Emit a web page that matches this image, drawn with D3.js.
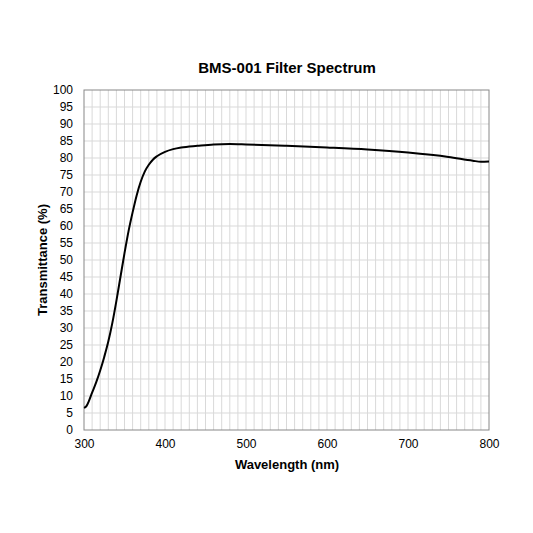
<!DOCTYPE html><html><head><script src="https://cdn.jsdelivr.net/npm/d3@7"></script>
<style>body{margin:0;background:#fff}</style></head><body><svg id="c" width="533" height="533"></svg>
<script>
const wavelengths=[300,303,306,310,315,320,325,330,335,340,345,350,355,360,365,370,375,380,385,390,400,410,420,440,460,480,500,550,600,650,700,750,780,790,800];
const transmittance=[6.5,7,8.5,11,14,17.5,21.5,26,31.5,38,45,52,58.5,64,69,73,76,78,79.5,80.5,81.8,82.6,83.1,83.6,84,84.1,84,83.6,83.1,82.5,81.6,80.3,79.2,78.9,79];
const xTicks=[300,400,500,600,700,800];
const yTicks=d3.range(0,101,5);
const svg=d3.select("#c"),L=84,R=489,T=90,B=430;
const x=d3.scaleLinear().domain([300,800]).range([L,R]);
const y=d3.scaleLinear().domain([0,100]).range([B,T]);
const g=svg.append("g");
g.selectAll(".v").data(d3.range(310,800,10)).enter().append("line").attr("x1",d=>x(d)).attr("x2",d=>x(d)).attr("y1",T).attr("y2",B).attr("stroke","#d9d9d9");
g.selectAll(".h").data(d3.range(5,100,5)).enter().append("line").attr("y1",d=>y(d)).attr("y2",d=>y(d)).attr("x1",L).attr("x2",R).attr("stroke","#d9d9d9");
svg.append("rect").attr("x",L).attr("y",T).attr("width",R-L).attr("height",B-T).attr("fill","none").attr("stroke","#888");
const xa=svg.append("g").attr("transform",`translate(0,${B})`).call(d3.axisBottom(x).tickValues(xTicks).tickSize(0).tickPadding(9));
const ya=svg.append("g").attr("transform",`translate(${L},0)`).call(d3.axisLeft(y).tickValues(yTicks).tickSize(0).tickPadding(11));
[xa,ya].forEach(a=>{a.select(".domain").remove();a.selectAll("text").attr("font-family","Liberation Sans, Arial").attr("font-size",12).attr("fill","#000");});
svg.append("path").datum(wavelengths.map((w,i)=>[w,transmittance[i]])).attr("fill","none").attr("stroke","#000").attr("stroke-width",2)
 .attr("d",d3.line().x(d=>x(d[0])).y(d=>y(d[1])).curve(d3.curveMonotoneX));
svg.append("text").attr("x",287).attr("y",73).attr("text-anchor","middle").attr("font-family","Liberation Sans, Arial").attr("font-weight","bold").attr("font-size",15).text("BMS-001 Filter Spectrum");
svg.append("text").attr("x",287).attr("y",469).attr("text-anchor","middle").attr("font-family","Liberation Sans, Arial").attr("font-weight","bold").attr("font-size",13).text("Wavelength (nm)");
svg.append("text").attr("transform","translate(47,260) rotate(-90)").attr("text-anchor","middle").attr("font-family","Liberation Sans, Arial").attr("font-weight","bold").attr("font-size",13).text("Transmittance (%)");
</script></body></html>
